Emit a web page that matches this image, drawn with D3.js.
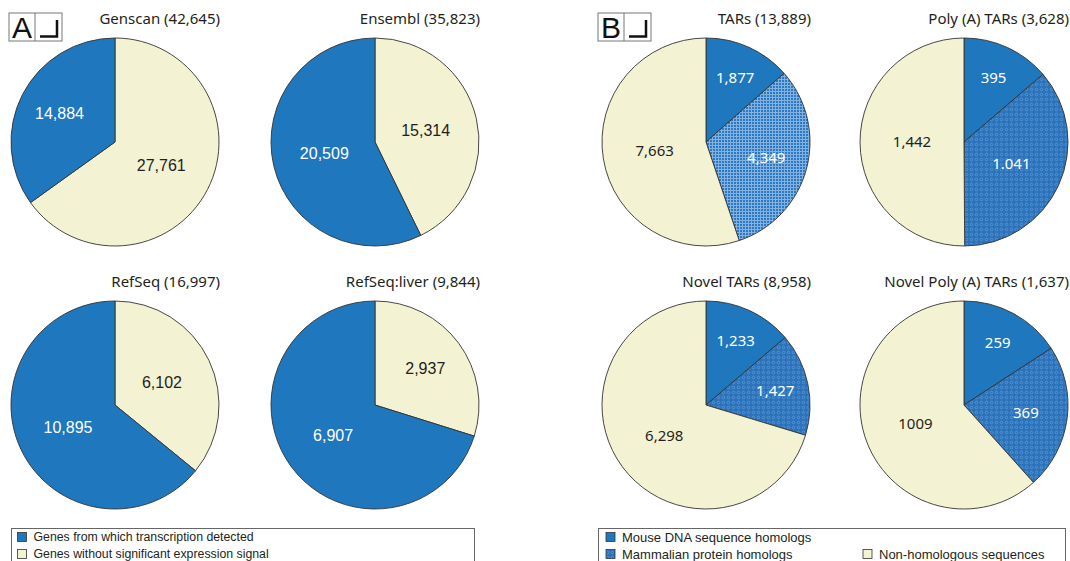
<!DOCTYPE html>
<html>
<head>
<meta charset="utf-8">
<script src="https://cdn.jsdelivr.net/npm/d3@7"></script>
<style>
  body { margin: 0; background: #fff; }
  svg { display: block; }
</style>
</head>
<body>
<svg id="chart" width="1070" height="561"></svg>
<script>
// pie titles, panel A (genes) and panel B (TARs)
const titlesA = ["Genscan (42,645)", "Ensembl (35,823)", "RefSeq (16,997)", "RefSeq:liver (9,844)"];
const titlesB = ["TARs (13,889)", "Poly (A) TARs (3,628)", "Novel TARs (8,958)", "Novel Poly (A) TARs (1,637)"];

// panel A values, clockwise from 12 o'clock: [no signal, detected]
const notDetected = [27761, 15314, 6102, 2937];
const detected = [14884, 20509, 10895, 6907];

// panel B values, clockwise: [mouse DNA, mammalian protein, non-homologous]
const mouseDNA = [1877, 395, 1233, 259];
const mammalProt = [4349, 1041, 1427, 369];
const nonHomol = [7663, 1442, 6298, 1009];
const labelsB = [
  ["1,877", "4,349", "7,663"],
  ["395", "1.041", "1,442"],
  ["1,233", "1,427", "6,298"],
  ["259", "369", "1009"]
];

const legendA = ["Genes from which transcription detected", "Genes without significant expression signal"];
const legendB = ["Mouse DNA sequence homologs", "Mammalian protein homologs", "Non-homologous sequences"];

const BLUE = "#1f77bd", CREAM = "#f3f2d3";
const fmt = d3.format(",d");

const svg = d3.select("#chart");
const defs = svg.append("defs");

// fine cross-hatch (TARs)
const pf = defs.append("pattern").attr("id", "hatchFine")
    .attr("width", 3).attr("height", 3).attr("patternUnits", "userSpaceOnUse");
pf.append("rect").attr("width", 3).attr("height", 3).attr("fill", "#2f78c2");
pf.append("rect").attr("width", 3).attr("height", 1).attr("fill", "#82b2e0");
pf.append("rect").attr("width", 1).attr("height", 3).attr("fill", "#82b2e0");

// dotted texture (others)
const pd = defs.append("pattern").attr("id", "hatchDot")
    .attr("width", 5).attr("height", 5).attr("patternUnits", "userSpaceOnUse");
pd.append("rect").attr("width", 5).attr("height", 5).attr("fill", "#2a72ba");
pd.append("circle").attr("cx", 2.5).attr("cy", 2.5).attr("r", 1.3)
    .attr("fill", "none").attr("stroke", "#5a97d4").attr("stroke-width", 0.8);

const R = 104;
const colX = { A: [115, 375], B: [706, 964] };
const rowY = [142, 405];

const pie = d3.pie().sort(null).value(d => d.v);
const arc = d3.arc().innerRadius(0).outerRadius(R);

function drawPie(cx, cy, title, slices, labelFont, labelSize) {
  const g = svg.append("g").attr("transform", "translate(" + cx + "," + cy + ")");
  const arcs = pie(slices);
  g.selectAll("path").data(arcs).enter().append("path")
      .attr("d", arc)
      .attr("fill", d => d.data.fill)
      .attr("stroke", "#333")
      .attr("stroke-width", 0.9);

  g.selectAll("text.lab").data(arcs).enter().append("text")
      .attr("class", "lab")
      .attr("transform", d => {
        const frac = (d.endAngle - d.startAngle) / (2 * Math.PI);
        const k = frac < 0.2 ? 0.68 : frac < 0.35 ? 0.6 : 0.5;
        const c = d3.arc().innerRadius(0).outerRadius(R * k * 2).centroid(d);
        return "translate(" + c[0] + "," + c[1] + ")";
      })
      .attr("text-anchor", "middle")
      .attr("dy", "0.35em")
      .style("font-family", labelFont)
      .style("font-size", labelSize + "px")
      .attr("fill", d => d.data.fill === CREAM ? "#231f20" : "#fff")
      .text(d => d.data.label);

  svg.append("text")
      .attr("x", cx + R + 1)
      .attr("y", cy - R - 14)
      .attr("text-anchor", "end")
      .style("font-family", "'Noto Sans', 'Open Sans', sans-serif")
      .style("font-size", "15px")
      .attr("fill", "#231f20")
      .text(title);
}

titlesA.forEach((t, i) => {
  const slices = [
    { v: notDetected[i], fill: CREAM, label: fmt(notDetected[i]) },
    { v: detected[i], fill: BLUE, label: fmt(detected[i]) }
  ];
  drawPie(colX.A[i % 2], rowY[Math.floor(i / 2)], t, slices, "'Liberation Sans', Arial, sans-serif", 16);
});

titlesB.forEach((t, i) => {
  const slices = [
    { v: mouseDNA[i], fill: BLUE, label: labelsB[i][0] },
    { v: mammalProt[i], fill: i === 0 ? "url(#hatchFine)" : "url(#hatchDot)", label: labelsB[i][1] },
    { v: nonHomol[i], fill: CREAM, label: labelsB[i][2] }
  ];
  drawPie(colX.B[i % 2], rowY[Math.floor(i / 2)], t, slices, "'Noto Sans', 'Open Sans', sans-serif", 15);
});

// panel letters
function panelTag(x, letter) {
  const g = svg.append("g").attr("transform", "translate(" + x + ",13)");
  g.append("rect").attr("width", 53).attr("height", 28)
      .attr("fill", "#fff").attr("stroke", "#777").attr("stroke-width", 1);
  g.append("line").attr("x1", 26).attr("x2", 26).attr("y1", 0).attr("y2", 28)
      .attr("stroke", "#777");
  g.append("text").attr("x", 13).attr("y", 25).attr("text-anchor", "middle")
      .style("font-family", "'Liberation Sans', Arial, sans-serif")
      .style("font-size", "30px").attr("fill", "#111").text(letter);
  g.append("path").attr("d", "M31,23.5 H48 V7")
      .attr("fill", "none").attr("stroke", "#111").attr("stroke-width", 2.5);
}
panelTag(9, "A");
panelTag(598, "B");

// legends
function legendBox(x, w) {
  return svg.append("rect").attr("x", x).attr("y", 528.5).attr("width", w).attr("height", 40)
      .attr("fill", "#fff").attr("stroke", "#666").attr("stroke-width", 1);
}
function legendItem(x, y, fill, label, size) {
  svg.append("rect").attr("x", x).attr("y", y - 4.5).attr("width", 9).attr("height", 9)
      .attr("fill", fill).attr("stroke", "#333").attr("stroke-width", 0.8);
  svg.append("text").attr("x", x + 16).attr("y", y).attr("dy", "0.35em")
      .style("font-family", "'Liberation Sans', Arial, sans-serif")
      .style("font-size", size + "px").attr("fill", "#231f20").text(label);
}
legendBox(11.5, 463);
legendItem(17.5, 537, BLUE, legendA[0], 12.3);
legendItem(17.5, 554, CREAM, legendA[1], 12.3);

legendBox(598.5, 467);
legendItem(606, 537, BLUE, legendB[0], 13);
legendItem(606, 554, "url(#hatchDot)", legendB[1], 13);
legendItem(863, 554, CREAM, legendB[2], 13);
</script>
</body>
</html>
